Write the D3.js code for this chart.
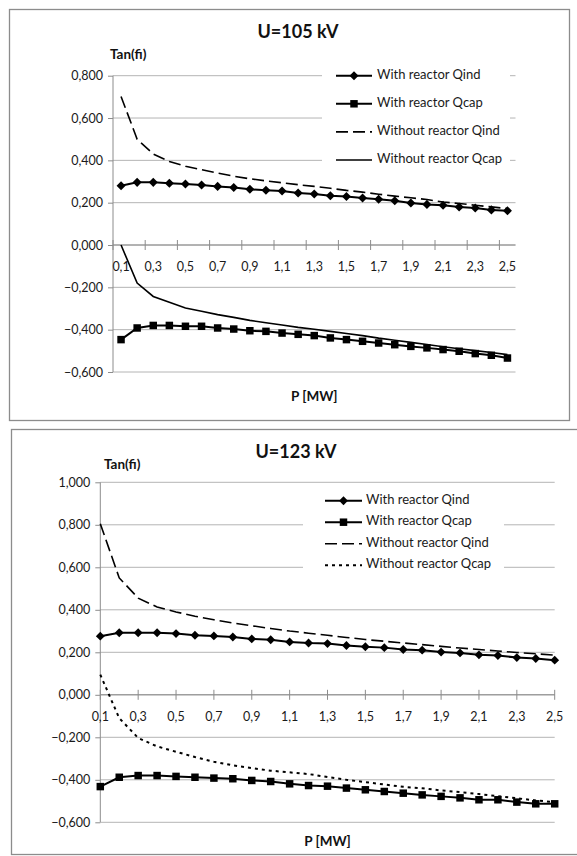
<!DOCTYPE html>
<html>
<head>
<meta charset="utf-8">
<script src="https://cdn.jsdelivr.net/npm/d3@7"></script>
<style>
  body { margin: 0; background: #fff; }
  svg { display: block; font-family: Lato, "Open Sans", sans-serif; }
</style>
</head>
<body>
<div id="chart"></div>
<script>
// categories (P in MW)
const pMW = [0.1, 0.2, 0.3, 0.4, 0.5, 0.6, 0.7, 0.8, 0.9, 1.0, 1.1, 1.2, 1.3,
             1.4, 1.5, 1.6, 1.7, 1.8, 1.9, 2.0, 2.1, 2.2, 2.3, 2.4, 2.5];

const seriesNames = ["With reactor Qind", "With reactor Qcap", "Without reactor Qind", "Without reactor Qcap"];

// U = 105 kV
const withQind105 = [0.280, 0.296, 0.296, 0.292, 0.288, 0.284, 0.277, 0.272, 0.263, 0.259, 0.255, 0.246, 0.241,
                     0.233, 0.229, 0.222, 0.216, 0.209, 0.199, 0.192, 0.188, 0.180, 0.175, 0.166, 0.162];
const withQcap105 = [-0.447, -0.392, -0.380, -0.380, -0.384, -0.384, -0.392, -0.397, -0.405, -0.408, -0.416, -0.422, -0.428,
                     -0.439, -0.447, -0.455, -0.463, -0.471, -0.479, -0.486, -0.494, -0.502, -0.513, -0.521, -0.534];
const withoutQind105 = [0.702, 0.500, 0.430, 0.395, 0.372, 0.356, 0.340, 0.325, 0.313, 0.303, 0.294, 0.285, 0.277,
                        0.268, 0.258, 0.250, 0.240, 0.231, 0.223, 0.215, 0.203, 0.196, 0.188, 0.180, 0.172];
const withoutQcap105 = [0.000, -0.180, -0.243, -0.271, -0.298, -0.313, -0.329, -0.342, -0.356, -0.367, -0.378, -0.389, -0.398,
                        -0.408, -0.418, -0.428, -0.440, -0.450, -0.460, -0.470, -0.481, -0.490, -0.499, -0.508, -0.518];
const yTicks105 = [0.8, 0.6, 0.4, 0.2, 0, -0.2, -0.4, -0.6];

// U = 123 kV
const withQind123 = [0.276, 0.292, 0.292, 0.292, 0.288, 0.280, 0.277, 0.272, 0.263, 0.259, 0.249, 0.244, 0.241,
                     0.232, 0.226, 0.222, 0.213, 0.210, 0.201, 0.197, 0.188, 0.185, 0.175, 0.171, 0.163];
const withQcap123 = [-0.432, -0.388, -0.380, -0.380, -0.384, -0.388, -0.392, -0.395, -0.403, -0.408, -0.419, -0.427, -0.430,
                     -0.439, -0.447, -0.455, -0.463, -0.471, -0.478, -0.485, -0.494, -0.494, -0.505, -0.513, -0.513];
const withoutQind123 = [0.805, 0.550, 0.455, 0.413, 0.390, 0.370, 0.353, 0.338, 0.325, 0.312, 0.300, 0.290, 0.280,
                        0.270, 0.260, 0.252, 0.244, 0.236, 0.228, 0.220, 0.213, 0.206, 0.199, 0.193, 0.187];
const withoutQcap123 = [0.095, -0.110, -0.203, -0.243, -0.268, -0.293, -0.315, -0.332, -0.345, -0.357, -0.365, -0.373, -0.387,
                        -0.400, -0.411, -0.422, -0.433, -0.440, -0.450, -0.458, -0.467, -0.477, -0.487, -0.497, -0.505];
const yTicks123 = [1.0, 0.8, 0.6, 0.4, 0.2, 0, -0.2, -0.4, -0.6];

const width = 577, height = 856;
const locale = d3.formatLocale({ decimal: ",", thousands: " ", grouping: [3], currency: ["", ""] });
const fmtY = locale.format(".3f");
const fmtX = locale.format(".1f");

const svg = d3.select("#chart").append("svg")
  .attr("width", width)
  .attr("height", height);

function drawChart(cfg) {
  const g = svg.append("g");

  // chart area border
  g.append("rect")
    .attr("x", cfg.box.x).attr("y", cfg.box.y)
    .attr("width", cfg.box.w).attr("height", cfg.box.h)
    .attr("fill", "#fff").attr("stroke", "#8c8c8c").attr("stroke-width", 1.3);

  const y = d3.scaleLinear().domain([-0.6, cfg.yMax]).range([cfg.bottom, cfg.top]);

  // x: band (between tick marks) or point (on tick marks)
  let xPos, xTick;
  if (cfg.between) {
    const xb = d3.scaleBand().domain(pMW).range([cfg.left, cfg.right]).padding(0);
    xPos = d => xb(d) + xb.bandwidth() / 2;
    xTick = d => xb(d);
  } else {
    const xp = d3.scalePoint().domain(pMW).range([cfg.left, cfg.right]);
    xPos = d => xp(d);
    xTick = d => xp(d);
  }

  // gridlines
  g.append("g").selectAll("line")
    .data(cfg.yTicks)
    .join("line")
    .attr("x1", cfg.left).attr("x2", cfg.right)
    .attr("y1", d => y(d)).attr("y2", d => y(d))
    .attr("stroke", "#b4b4b4").attr("stroke-width", 1);

  // legend background hides the gridlines behind it
  g.append("rect")
    .attr("x", cfg.legend.x0).attr("y", cfg.legend.y0)
    .attr("width", cfg.legend.x1 - cfg.legend.x0)
    .attr("height", cfg.legend.y1 - cfg.legend.y0)
    .attr("fill", "#fff");

  // y axis
  const yAxis = g.append("g")
    .attr("transform", `translate(${cfg.left},0)`)
    .call(d3.axisLeft(y).tickValues(cfg.yTicks).tickFormat(fmtY).tickSize(5).tickPadding(5));
  yAxis.select(".domain").attr("stroke", "#8c8c8c").attr("d", `M0,${cfg.bottom}V${cfg.top}`);
  yAxis.selectAll(".tick line").attr("stroke", "#8c8c8c");
  yAxis.selectAll("text").attr("font-size", 12.5).attr("fill", "#1a1a1a").attr("font-family", "Lato, sans-serif");

  // x axis at zero
  const y0 = y(0);
  g.append("line")
    .attr("x1", cfg.left).attr("x2", cfg.right)
    .attr("y1", y0).attr("y2", y0)
    .attr("stroke", "#8c8c8c");
  const every2 = pMW.filter((d, i) => i % 2 === 0);
  g.append("g").selectAll("line")
    .data(every2)
    .join("line")
    .attr("x1", d => xTick(d)).attr("x2", d => xTick(d))
    .attr("y1", y0 - 5).attr("y2", y0 + 5)
    .attr("stroke", "#8c8c8c");
  g.append("g").selectAll("text")
    .data(every2)
    .join("text")
    .attr("x", d => xPos(d))
    .attr("y", y0 + 23)
    .attr("dominant-baseline", "middle")
    .attr("text-anchor", "middle")
    .attr("font-size", 12.5).attr("fill", "#1a1a1a")
    .text(d => fmtX(d));

  // series
  const line = d3.line().x((d, i) => xPos(pMW[i])).y(d => y(d));
  cfg.series.forEach(s => {
    g.append("path")
      .datum(s.values)
      .attr("fill", "none")
      .attr("stroke", "#000")
      .attr("stroke-width", s.width)
      .attr("stroke-dasharray", s.dash || null)
      .attr("d", line);
    if (s.symbol) {
      g.append("g").selectAll("path")
        .data(s.values)
        .join("path")
        .attr("transform", (d, i) => `translate(${xPos(pMW[i])},${y(d)})`)
        .attr("d", d3.symbol().type(s.symbol).size(s.size))
        .attr("fill", "#000");
    }
  });

  // legend
  const lg = g.append("g");
  cfg.series.forEach((s, i) => {
    const ly = cfg.legend.firstY + i * cfg.legend.step;
    lg.append("line")
      .attr("x1", cfg.legend.lineX0).attr("x2", cfg.legend.lineX1)
      .attr("y1", ly).attr("y2", ly)
      .attr("stroke", "#000").attr("stroke-width", s.width)
      .attr("stroke-dasharray", s.dash || null);
    if (s.symbol) {
      lg.append("path")
        .attr("transform", `translate(${(cfg.legend.lineX0 + cfg.legend.lineX1) / 2},${ly})`)
        .attr("d", d3.symbol().type(s.symbol).size(s.size))
        .attr("fill", "#000");
    }
    lg.append("text")
      .attr("x", cfg.legend.textX).attr("y", ly)
      .attr("dominant-baseline", "middle")
      .attr("font-size", 13).attr("fill", "#1a1a1a")
      .text(s.name);
  });

  // titles
  g.append("text")
    .attr("x", cfg.titleX).attr("y", cfg.titleY)
    .attr("text-anchor", "middle").attr("dominant-baseline", "middle")
    .attr("font-size", 18).attr("font-weight", "bold").attr("fill", "#111")
    .text(cfg.title);
  g.append("text")
    .attr("x", cfg.yTitleX).attr("y", cfg.yTitleY)
    .attr("dominant-baseline", "middle")
    .attr("font-size", 13.5).attr("font-weight", "bold").attr("fill", "#111")
    .text("Tan(fi)");
  g.append("text")
    .attr("x", (cfg.left + cfg.right) / 2).attr("y", cfg.xTitleY)
    .attr("text-anchor", "middle").attr("dominant-baseline", "middle")
    .attr("font-size", 13.5).attr("font-weight", "bold").attr("fill", "#111")
    .text("P [MW]");
}

drawChart({
  title: "U=105 kV",
  box: { x: 9.5, y: 9.5, w: 560, h: 411 },
  left: 113, right: 515.5, top: 75.7, bottom: 372, yMax: 0.8,
  yTicks: yTicks105, between: true,
  titleX: 298, titleY: 33, yTitleX: 110, yTitleY: 56, xTitleY: 398,
  legend: { x0: 322, x1: 510, y0: 64, y1: 172, firstY: 75.7, step: 28.1,
            lineX0: 336, lineX1: 372, textX: 377 },
  series: [
    { name: seriesNames[0], values: withQind105, width: 2, symbol: d3.symbolDiamond2, size: 52 },
    { name: seriesNames[1], values: withQcap105, width: 2, symbol: d3.symbolSquare, size: 56 },
    { name: seriesNames[2], values: withoutQind105, width: 1.6, dash: "12,5" },
    { name: seriesNames[3], values: withoutQcap105, width: 1.6 }
  ]
});

drawChart({
  title: "U=123 kV",
  box: { x: 11.5, y: 429.5, w: 600, h: 425 },
  left: 100.3, right: 554.7, top: 482.3, bottom: 822.3, yMax: 1.0,
  yTicks: yTicks123, between: false,
  titleX: 296, titleY: 453, yTitleX: 104, yTitleY: 466, xTitleY: 843,
  legend: { x0: 303, x1: 504, y0: 489, y1: 577, firstY: 500.7, step: 21.5,
            lineX0: 325, lineX1: 362, textX: 366 },
  series: [
    { name: seriesNames[0], values: withQind123, width: 2, symbol: d3.symbolDiamond2, size: 50 },
    { name: seriesNames[1], values: withQcap123, width: 2, symbol: d3.symbolSquare, size: 56 },
    { name: seriesNames[2], values: withoutQind123, width: 1.6, dash: "12,5" },
    { name: seriesNames[3], values: withoutQcap123, width: 2, dash: "3,4" }
  ]
});
</script>
</body>
</html>
